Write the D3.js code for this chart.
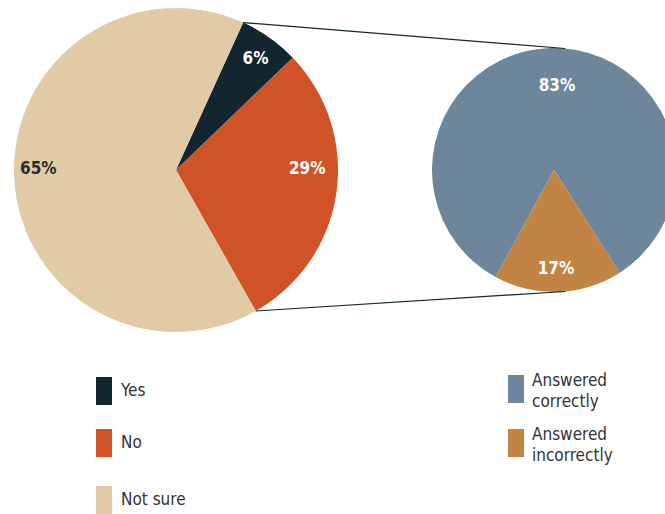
<!DOCTYPE html>
<html>
<head>
<meta charset="utf-8">
<script src="https://cdn.jsdelivr.net/npm/d3@7"></script>
<style>
  html, body { margin: 0; padding: 0; background: #fff; }
  svg { display: block; }
  text { font-stretch: condensed; }
</style>
</head>
<body>
<svg id="chart" width="665" height="514"></svg>
<script>
// Survey answers (main pie)
const mainCategories = ["Yes", "No", "Not sure"];
const mainValues = [6, 29, 65];
const mainColors = ["#13262f", "#d05328", "#e0cba6"];

// Breakdown of "Yes" answers (detail pie)
const detailCategories = ["Answered correctly", "Answered incorrectly"];
const detailValues = [83, 17];
const detailColors = ["#6e869c", "#c28444"];

const svg = d3.select("#chart");
const deg = Math.PI / 180;
const font = '"Liberation Sans Narrow", "DejaVu Sans Condensed", Roboto, sans-serif';

// ---- main pie ----
const main = { cx: 176, cy: 170, r: 162, start: 24.5 * deg };
const mainPie = d3.pie().sort(null)
  .startAngle(main.start).endAngle(main.start + 2 * Math.PI);
const mainArcs = mainPie(mainValues);
const mainArc = d3.arc().innerRadius(0).outerRadius(main.r);

const gMain = svg.append("g").attr("transform", `translate(${main.cx},${main.cy})`);
gMain.selectAll("path").data(mainArcs).join("path")
  .attr("d", mainArc)
  .attr("fill", (d, i) => mainColors[i]);

// label placement: angle (deg, clockwise from top) and radius fraction
const mainLabelPos = [[35.3, 0.85], [89, 0.81], [270.8, 0.85]];
gMain.selectAll("text").data(mainArcs).join("text")
  .attr("transform", (d, i) => {
    const a = mainLabelPos[i][0] * deg;
    const rr = mainLabelPos[i][1] * main.r;
    return `translate(${Math.sin(a) * rr},${-Math.cos(a) * rr})`;
  })
  .attr("text-anchor", "middle")
  .attr("dy", "0.35em")
  .attr("font-family", font)
  .attr("font-weight", "bold")
  .attr("font-size", 17)
  .attr("fill", (d, i) => i === 2 ? "#2b2b2b" : "#ffffff")
  .text(d => d.data + "%");

// ---- detail pie ----
const detail = { cx: 554, cy: 170, r: 122 };
const incorrectSpan = detailValues[1] / d3.sum(detailValues) * 2 * Math.PI;
const detailStart = 178 * deg + incorrectSpan / 2 - 2 * Math.PI;
const detailPie = d3.pie().sort(null)
  .startAngle(detailStart).endAngle(detailStart + 2 * Math.PI);
const detailArcs = detailPie(detailValues);
const detailArc = d3.arc().innerRadius(0).outerRadius(detail.r);

const gDetail = svg.append("g").attr("transform", `translate(${detail.cx},${detail.cy})`);
gDetail.selectAll("path").data(detailArcs).join("path")
  .attr("d", detailArc)
  .attr("fill", (d, i) => detailColors[i]);

gDetail.selectAll("text").data(detailArcs).join("text")
  .attr("x", (d, i) => i === 0 ? 3 : 2)
  .attr("y", (d, i) => i === 0 ? -detail.r * 0.7 : detail.r * 0.8)
  .attr("text-anchor", "middle")
  .attr("dy", "0.35em")
  .attr("font-family", font)
  .attr("font-weight", "bold")
  .attr("font-size", 17)
  .attr("fill", "#ffffff")
  .text(d => d.data + "%");

// ---- connector lines from the "Yes" slice to the detail pie ----
const yesArc = mainArcs[0];
const noArc = mainArcs[1];
const pt = (c, r, a) => [c.cx + Math.sin(a) * r, c.cy - Math.cos(a) * r];
const connectors = [
  [pt(main, main.r, yesArc.startAngle), pt(detail, detail.r, 5.2 * deg)],
  [pt(main, main.r, noArc.endAngle), pt(detail, detail.r, 174.8 * deg)]
];
svg.append("g").selectAll("line").data(connectors).join("line")
  .attr("x1", d => d[0][0]).attr("y1", d => d[0][1])
  .attr("x2", d => d[1][0]).attr("y2", d => d[1][1])
  .attr("stroke", "#13262f")
  .attr("stroke-width", 1.2);

// ---- legends ----
const leftLegendY = [377, 429, 486];
const gLeft = svg.append("g");
mainCategories.forEach((c, i) => {
  gLeft.append("rect")
    .attr("x", 96).attr("y", leftLegendY[i])
    .attr("width", 16).attr("height", 28)
    .attr("fill", mainColors[i]);
  gLeft.append("text")
    .attr("x", 121).attr("y", leftLegendY[i] + 19)
    .attr("font-family", font).attr("font-size", 17)
    .attr("fill", "#333333")
    .text(c);
});

const rightLegendY = [375, 429];
const gRight = svg.append("g");
detailCategories.forEach((c, i) => {
  gRight.append("rect")
    .attr("x", 508).attr("y", rightLegendY[i])
    .attr("width", 16).attr("height", 28)
    .attr("fill", detailColors[i]);
  const words = c.split(" ");
  const t = gRight.append("text")
    .attr("font-family", font).attr("font-size", 17)
    .attr("fill", "#333333");
  words.forEach((w, j) => {
    t.append("tspan")
      .attr("x", 532)
      .attr("y", rightLegendY[i] + 11 + j * 21)
      .text(w);
  });
});
</script>
</body>
</html>
